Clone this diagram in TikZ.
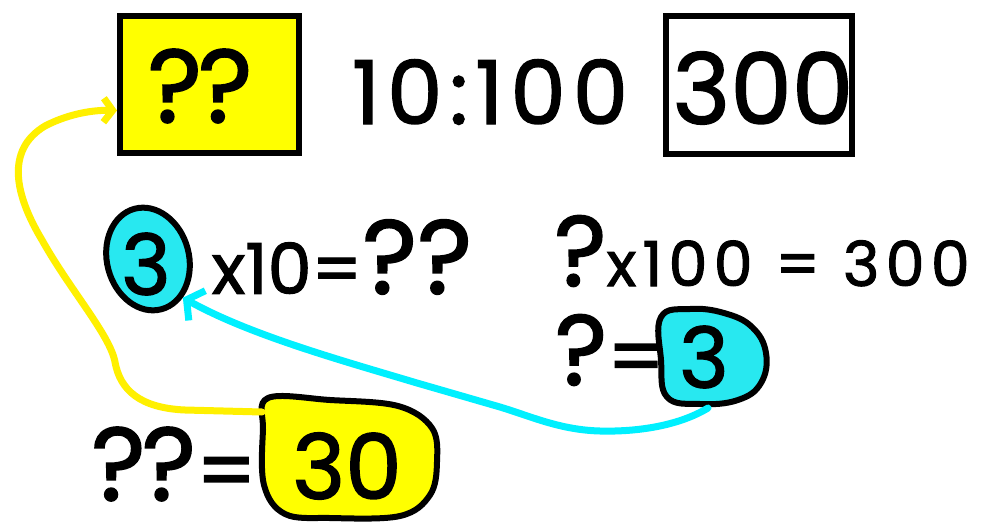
\documentclass[tikz,border=0pt]{standalone}
\usepackage{fontspec}
\setmainfont{Poppins}[FakeBold=1.6]
\usetikzlibrary{arrows.meta,shapes.geometric}
\newcommand\hw[1]{\fontsize{#1}{#1}\selectfont}
\newcommand\lsp[1]{\addfontfeature{LetterSpace=#1}}
\definecolor{hyel}{RGB}{255,255,0}
\definecolor{hyline}{RGB}{255,240,0}
\definecolor{hcyan}{RGB}{40,232,240}
\definecolor{hcline}{RGB}{0,240,255}
\begin{document}
\begin{tikzpicture}[x=1pt,y=1pt,
  hand/.style={inner sep=0pt, text=black},
  box/.style={draw=black, line width=6pt, inner sep=0pt},
  blob/.style={draw=black, line width=6pt, line join=round},
  yconn/.style={draw=hyline, line width=7pt, line cap=round, -{Straight Barb[length=9pt,width=24pt]}},
  cconn/.style={draw=hcline, line width=7pt, line cap=round, -{Straight Barb[length=12pt,width=34pt]}}]
\useasboundingbox[fill=white] (0,0) rectangle (1002,-525);
% top row
\node[box, fill=hyel, minimum width=179pt, minimum height=137pt] (qbox) at (209.5,-84.5) {};
\node[hand] (qq) at (200,-86) {\hw{104}\lsp{-4}??};
\node[hand] (ratio) at (490,-92) {\hw{88}\lsp{8}10:100};
\node[box, minimum width=186pt, minimum height=138pt] (tbox) at (759,-85) {};
\node[hand] (t300) at (763,-88) {\hw{98}300};
% second row
\node[blob, ellipse, fill=hcyan, minimum width=82pt, minimum height=104pt, rotate=15] (cl) at (148,-259) {};
\node[hand] (t3l) at (146,-264) {\hw{84}3};
\node[hand] (eq1) at (342,-257) {\hw{70}x10=\hw{105}??};
\node[hand] (eq2) at (762,-251) {\hw{100}?\hw{62}\lsp{10} x100 = 300};
% third row
\node[hand] (qeq) at (610,-350) {\hw{100}?\hw{80}=};
\path[blob, fill=hcyan] plot[smooth cycle, tension=0.7] coordinates
  {(661,-317) (690,-309) (724,-313) (752,-327) (766,-353) (761,-383) (738,-400) (700,-404) (667,-397) (661,-360)};
\node[hand] (t3r) at (704,-357) {\hw{84}3};
\coordinate (c3rb) at (708,-408);
% bottom row
\node[hand] (qqeq) at (174,-464) {\hw{104}\lsp{-4}??\hw{84}=};
\path[blob, fill=hyel] plot[smooth cycle, tension=0.6] coordinates
  {(268,-398) (330,-400) (398,-406) (432,-428) (437,-462) (430,-495) (400,-516) (330,-518) (285,-514) (264,-485) (263,-430)};
\node[hand] (t30) at (347,-466) {\hw{90}30};
\coordinate (y30w) at (262,-412);
% connectors
\draw[yconn] (y30w) -- (185,-410) .. controls (140,-408) and (120,-390) .. (115,-362)
  .. controls (110,-335) and (70,-290) .. (42,-240)
  .. controls (15,-195) and (5,-150) .. (45,-126)
  .. controls (70,-113) and (95,-110) .. ([yshift=-26pt]qbox.west);
\draw[cconn] (c3rb) .. controls (680,-425) and (640,-432) .. (600,-431)
  .. controls (560,-430) and (530,-416) .. (500,-407) -- (417,-383)
  .. controls (340,-360) and (250,-335) .. (cl.-63);
\end{tikzpicture}
\end{document}
